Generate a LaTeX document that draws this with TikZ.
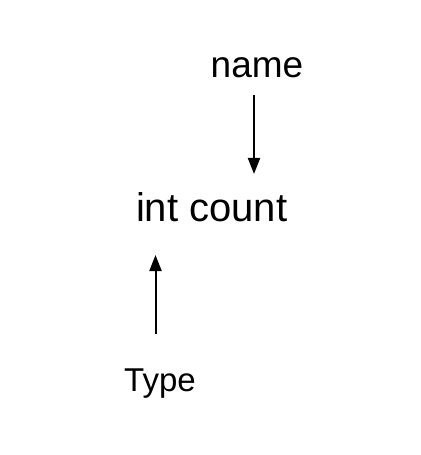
\documentclass[tikz,border=0pt]{standalone}
\usepackage{fontspec}
\setmainfont{Liberation Sans}
\usetikzlibrary{arrows.meta}
\begin{document}
\begin{tikzpicture}[x=1bp,y=-1bp,
  lbl/.style={inner sep=0pt, anchor=base},
  arr/.style={-{Triangle[length=16bp,width=12bp]}, line width=2bp}]
\useasboundingbox (0,0) rectangle (420,455);
\node[lbl, font=\fontsize{37bp}{42bp}\selectfont] (name) at (257,78) {name};
\node[lbl, font=\fontsize{40bp}{45bp}\selectfont] (decl) at (211.7,221.7) {int count};
\node[lbl, font=\fontsize{33bp}{38bp}\selectfont] (type) at (160,391.7) {Type};
\coordinate (n1) at (254,95);
\coordinate (n2) at (254,174);
\coordinate (t1) at (155.5,334);
\coordinate (t2) at (155.5,255);
\draw[arr] (n1) -- (n2);
\draw[arr] (t1) -- (t2);
\end{tikzpicture}
\end{document}
